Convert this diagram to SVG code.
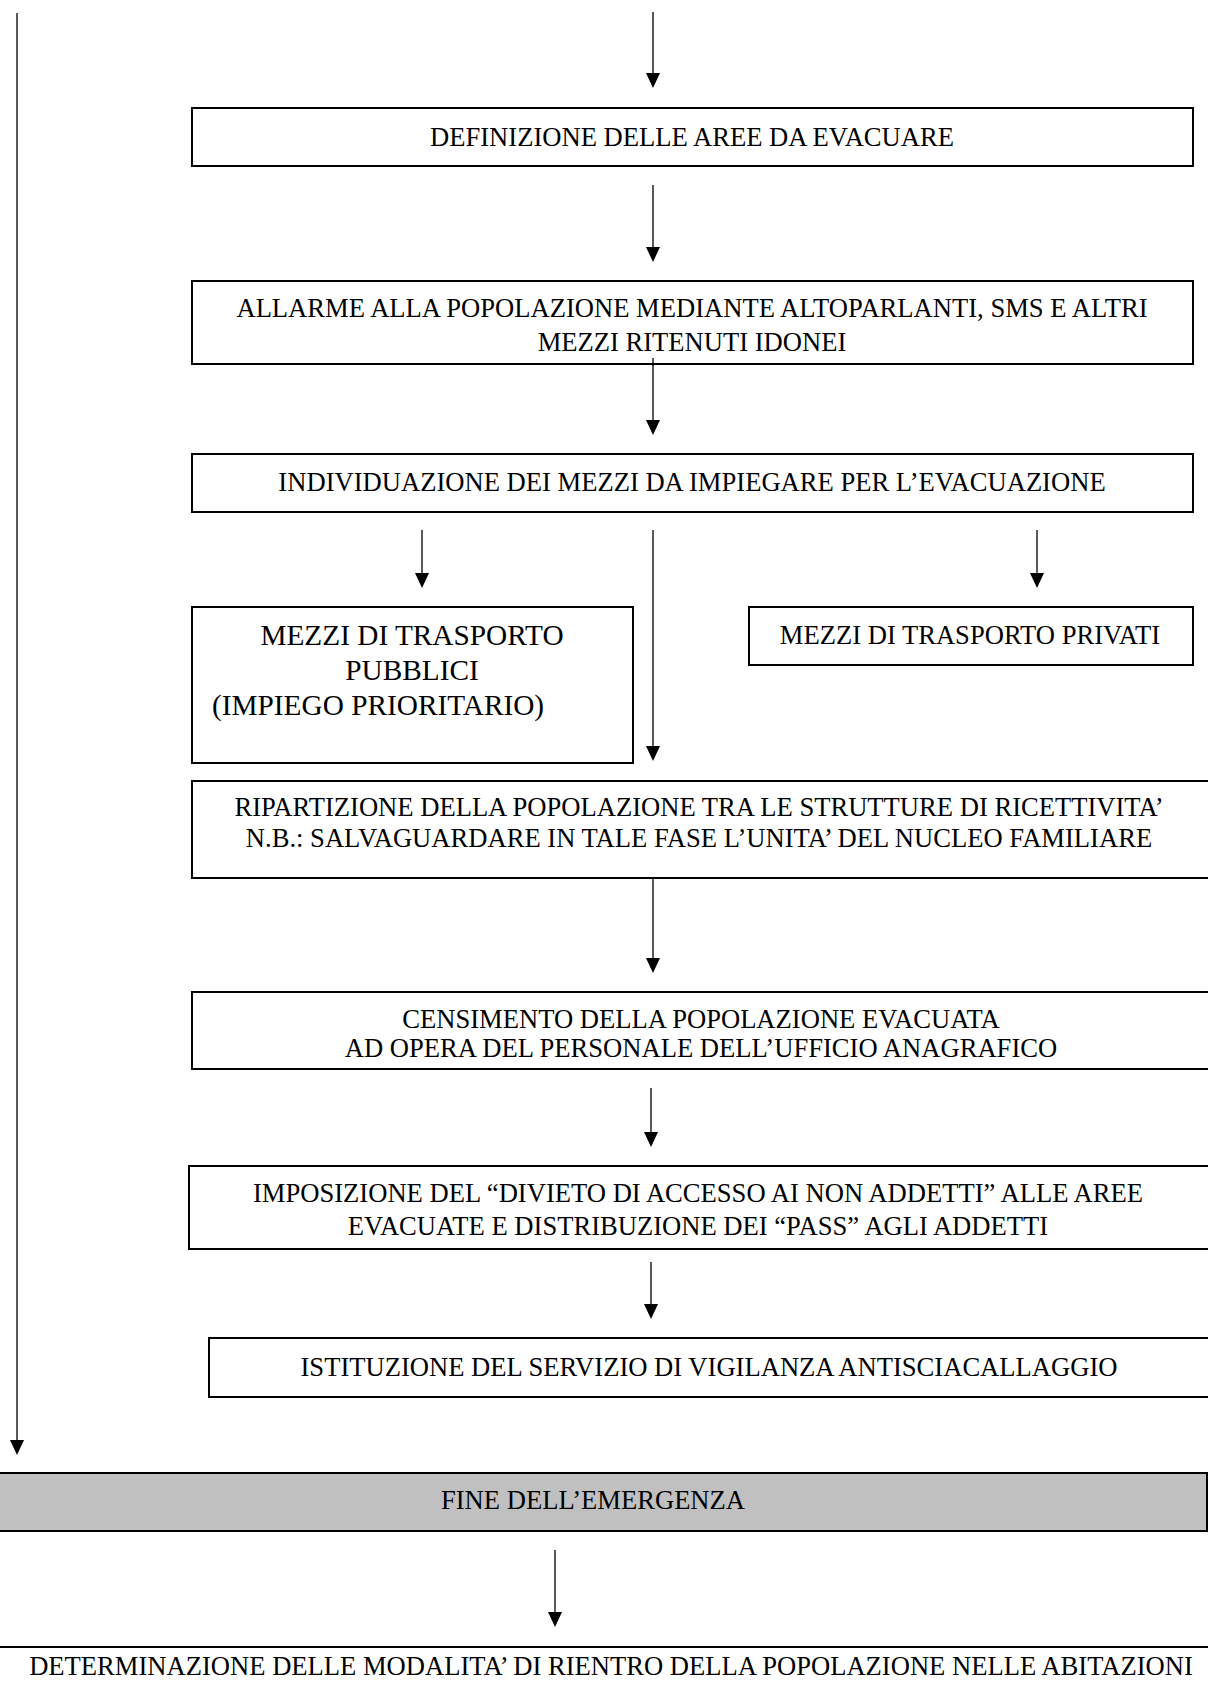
<svg xmlns="http://www.w3.org/2000/svg" width="1208" height="1700" viewBox="0 0 1208 1700">
<style>
.box{fill:#fff;stroke:#000;stroke-width:2}
.grey{fill:#c0c0c0;stroke:#000;stroke-width:2}
.t{font-family:"Liberation Serif","Times New Roman",serif;font-size:26.6px;fill:#000;text-anchor:middle}
.tb{font-family:"Liberation Serif","Times New Roman",serif;font-size:29.3px;fill:#000;text-anchor:middle}
.c{stroke:#000;stroke-width:1.3;fill:none;marker-end:url(#ah)}
</style>
<defs>
<marker id="ah" markerUnits="userSpaceOnUse" markerWidth="15" markerHeight="14" refX="13" refY="7" orient="auto">
<path d="M0,0 L15,7 L0,14 Z" fill="#000"/>
</marker>
</defs>
<rect width="1208" height="1700" fill="#fff"/>
<g id="connectors">
<line class="c" x1="653" y1="12" x2="653" y2="86"/>
<line class="c" x1="653" y1="185" x2="653" y2="260"/>
<line class="c" x1="653" y1="358" x2="653" y2="433"/>
<line class="c" x1="422" y1="530" x2="422" y2="586"/>
<line class="c" x1="653" y1="530" x2="653" y2="759"/>
<line class="c" x1="1037" y1="530" x2="1037" y2="586"/>
<line class="c" x1="653" y1="877" x2="653" y2="971"/>
<line class="c" x1="651" y1="1088" x2="651" y2="1145"/>
<line class="c" x1="651" y1="1262" x2="651" y2="1317"/>
<line class="c" x1="17" y1="13" x2="17" y2="1453"/>
<line class="c" x1="555" y1="1550" x2="555" y2="1625"/>
</g>
<g id="n1"><rect class="box" x="192" y="108" width="1001" height="58"/>
<text class="t" x="692" y="146">DEFINIZIONE DELLE AREE DA EVACUARE</text></g>
<g id="n2"><rect class="box" x="192" y="281" width="1001" height="83"/>
<text class="t" x="692" y="317">ALLARME ALLA POPOLAZIONE MEDIANTE ALTOPARLANTI, SMS E ALTRI</text>
<text class="t" x="692" y="351">MEZZI RITENUTI IDONEI</text></g>
<line x1="653" y1="358" x2="653" y2="366" stroke="#000" stroke-width="1.3"/>
<g id="n3"><rect class="box" x="192" y="454" width="1001" height="58"/>
<text class="t" x="692" y="491">INDIVIDUAZIONE DEI MEZZI DA IMPIEGARE PER L’EVACUAZIONE</text></g>
<g id="n4"><rect class="box" x="192" y="607" width="441" height="156"/>
<text class="tb" x="412" y="645">MEZZI DI TRASPORTO</text>
<text class="tb" x="412" y="680">PUBBLICI</text>
<text class="tb" x="212" y="715" style="text-anchor:start">(IMPIEGO PRIORITARIO)</text></g>
<g id="n5"><rect class="box" x="749" y="607" width="444" height="58"/>
<text class="t" x="970" y="644">MEZZI DI TRASPORTO PRIVATI</text></g>
<g id="n6"><rect class="box" x="192" y="781" width="1030" height="97"/>
<text class="t" x="699" y="816">RIPARTIZIONE DELLA POPOLAZIONE TRA LE STRUTTURE DI RICETTIVITA’</text>
<text class="t" x="699" y="847">N.B.: SALVAGUARDARE IN TALE FASE L’UNITA’ DEL NUCLEO FAMILIARE</text></g>
<g id="n7"><rect class="box" x="192" y="992" width="1030" height="77"/>
<text class="t" x="701" y="1028">CENSIMENTO DELLA POPOLAZIONE EVACUATA</text>
<text class="t" x="701" y="1057">AD OPERA DEL PERSONALE DELL’UFFICIO ANAGRAFICO</text></g>
<g id="n8"><rect class="box" x="189" y="1166" width="1033" height="83"/>
<text class="t" x="698" y="1202">IMPOSIZIONE DEL “DIVIETO DI ACCESSO AI NON ADDETTI” ALLE AREE</text>
<text class="t" x="698" y="1235">EVACUATE E DISTRIBUZIONE DEI “PASS” AGLI ADDETTI</text></g>
<g id="n9"><rect class="box" x="209" y="1338" width="1013" height="59"/>
<text class="t" x="709" y="1376">ISTITUZIONE DEL SERVIZIO DI VIGILANZA ANTISCIACALLAGGIO</text></g>
<g id="n10"><rect class="grey" x="-10" y="1473" width="1217" height="58"/>
<text class="t" x="593" y="1509">FINE DELL’EMERGENZA</text></g>
<g id="n11"><rect class="box" x="-10" y="1647" width="1230" height="80"/>
<text class="t" x="611" y="1675">DETERMINAZIONE DELLE MODALITA’ DI RIENTRO DELLA POPOLAZIONE NELLE ABITAZIONI</text></g>
</svg>
